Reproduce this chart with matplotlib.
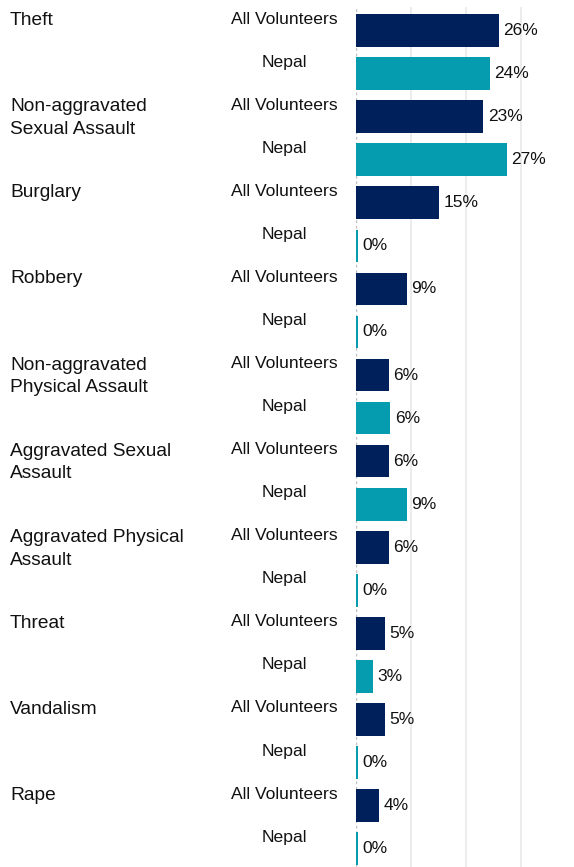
import numpy as np
import matplotlib
matplotlib.use("Agg")
import matplotlib.pyplot as plt
from matplotlib.transforms import blended_transform_factory

plt.rcParams['font.family'] = ['Liberation Sans', 'DejaVu Sans']

# data (percent of crimes)
categories = ["Theft", "Non-aggravated\nSexual Assault", "Burglary", "Robbery",
              "Non-aggravated\nPhysical Assault", "Aggravated Sexual\nAssault",
              "Aggravated Physical\nAssault", "Threat", "Vandalism", "Rape"]
groups = ["All Volunteers", "Nepal"]
all_volunteers = [25.9, 23.1, 15.0, 9.2, 6.0, 6.0, 6.0, 5.3, 5.3, 4.2]
nepal = [24.3, 27.4, 0.0, 0.0, 6.2, 9.2, 0.0, 3.1, 0.0, 0.0]

navy = '#00205B'
teal = '#069CB0'
text_col = '#111111'

# interleave: All Volunteers then Nepal for each category
values = []
colors = []
sublabels = []
for av, np_ in zip(all_volunteers, nepal):
    values += [av, np_]
    colors += [navy, teal]
    sublabels += groups
values = np.array(values)
pos = np.arange(len(values))

fig = plt.figure(figsize=(5.74, 8.67), dpi=100)
ax = fig.add_axes([356 / 574, 0.0, 1 - 356 / 574 - 0.005, 1 - 7 / 867])

# zero values still get a hairline bar like the original
shown = np.where(values == 0, 0.35, values)
ax.barh(pos, shown, height=0.76, color=colors, zorder=3)

for y, v, s in zip(pos, values, shown):
    ax.annotate('{:.0f}%'.format(v), (s, y), xytext=(3.2, 0),
                textcoords='offset points', ha='left', va='center',
                fontsize=12.5, color=text_col)

ax.set_xlim(0, 39)
ax.set_ylim(19.43, -0.55)
ax.set_xticks([10, 20, 30])
ax.grid(axis='x', color='#ebebeb', linewidth=1.3, zorder=0)
ax.axvline(0, color='#c0c0c0', linewidth=1.0, linestyle=(0, (2, 2)), zorder=1)
ax.tick_params(left=False, bottom=False, labelleft=False, labelbottom=False)
for sp in ax.spines.values():
    sp.set_visible(False)

tr = blended_transform_factory(fig.transFigure, ax.transData)
for y, lab in zip(pos, sublabels):
    ax.text(284 / 574, y - 0.16, lab, transform=tr, ha='center', va='baseline',
            fontsize=12.6, color=text_col, clip_on=False)

for i, cat in enumerate(categories):
    ax.text(10 / 574, 2 * i - 0.43, cat, transform=tr, ha='left', va='top',
            fontsize=13.8, color=text_col, linespacing=1.45, clip_on=False)

fig.savefig('out.png', dpi=100)
